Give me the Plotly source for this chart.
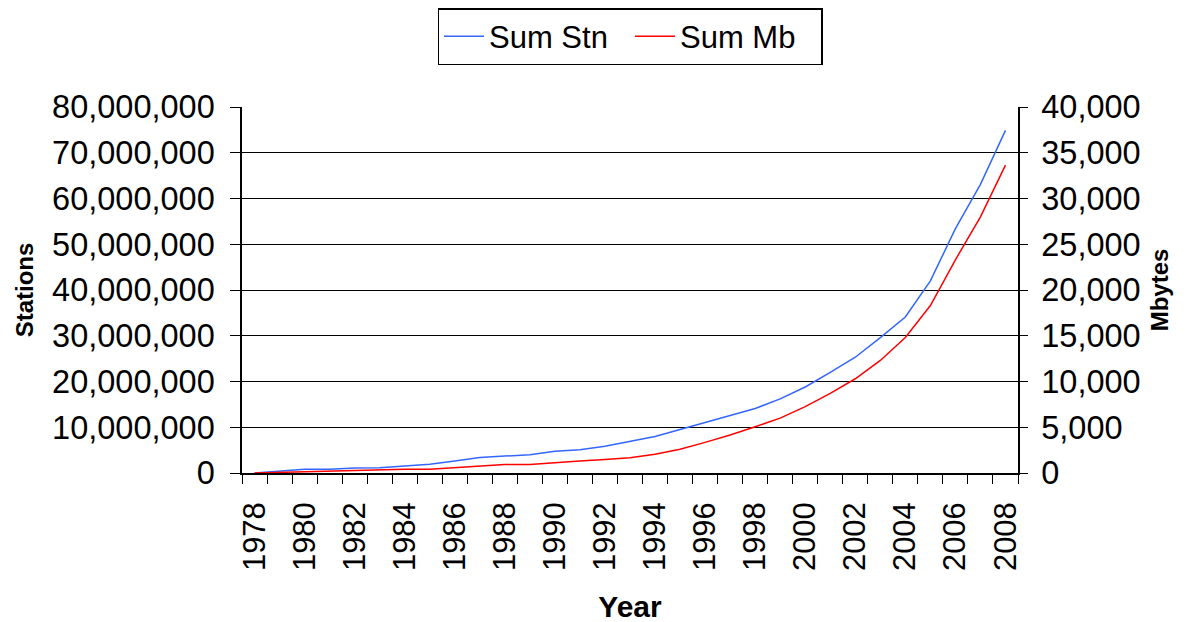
import plotly.graph_objects as go

years = [str(y) for y in range(1978, 2009)]
sum_stn = [0, 360000, 800000, 800000, 1100000, 1150000, 1500000, 1900000, 2600000, 3400000,
           3700000, 4000000, 4750000, 5100000, 5850000, 6900000, 8000000, 9500000, 11000000,
           12600000, 14100000, 16200000, 18800000, 22000000, 25300000, 29600000, 34100000,
           42000000, 53400000, 63100000, 74900000]
sum_mb = [0, 70, 150, 150, 220, 360, 400, 400, 580, 760, 940, 940, 1150, 1300, 1480, 1660,
          2050, 2600, 3350, 4150, 5050, 6000, 7250, 8700, 10300, 12300, 14800, 18300, 23300,
          28000, 33650]
tick_text = [y if int(y) % 2 == 0 else "" for y in years]

FONT = "Liberation Sans, Arial, sans-serif"

fig = go.Figure()
fig.add_trace(go.Scatter(x=years, y=sum_stn, name="Sum Stn", mode="lines",
                         line=dict(color="#3366FF", width=1.5)))
fig.add_trace(go.Scatter(x=years, y=sum_mb, name="Sum Mb", mode="lines", yaxis="y2",
                         line=dict(color="#FF0000", width=1.5)))

fig.update_layout(
    width=1186, height=622,
    margin=dict(l=234, r=176, t=99, b=153),
    paper_bgcolor="white", plot_bgcolor="white",
    font=dict(family=FONT, color="black", size=31),
    showlegend=True,
    legend=dict(orientation="h", x=0.5, xanchor="center", y=1.0, yanchor="top",
                yref="container", bordercolor="black", borderwidth=1.5,
                font=dict(size=31), itemwidth=40, entrywidth=136, bgcolor="white"),
    xaxis=dict(type="category", tickmode="array", tickvals=years, ticktext=tick_text,
               tickangle=-90, tickson="boundaries", ticks="outside", ticklen=9,
               tickcolor="black", showline=True, linecolor="black", linewidth=1.5,
               showgrid=False, tickfont=dict(size=31), range=[-0.5, 30.5],
               ticklabelstandoff=15,
               title=dict(text="<b>Year</b>", font=dict(size=30), standoff=26)),
    yaxis=dict(range=[0, 80000000], dtick=10000000, tickformat=",d", ticks="outside",
               ticklen=10, tickcolor="black", showline=True, linecolor="black",
               linewidth=1.5, showgrid=True, gridcolor="black", gridwidth=1.3,
               zeroline=False, tickfont=dict(size=32.5), ticklabelstandoff=9,
               title=dict(text="<b>Stations</b>", font=dict(size=24), standoff=12)),
    yaxis2=dict(range=[0, 40000], dtick=5000, tickformat=",d", overlaying="y", side="right",
                ticks="outside", ticklen=8, tickcolor="black", showline=True,
                linecolor="black", linewidth=1.5, showgrid=False, zeroline=False,
                tickfont=dict(size=32.5), ticklabelstandoff=7,
                title=dict(text="<b>Mbytes</b>", font=dict(size=24), standoff=12)),
)

fig.write_html("out.html")
